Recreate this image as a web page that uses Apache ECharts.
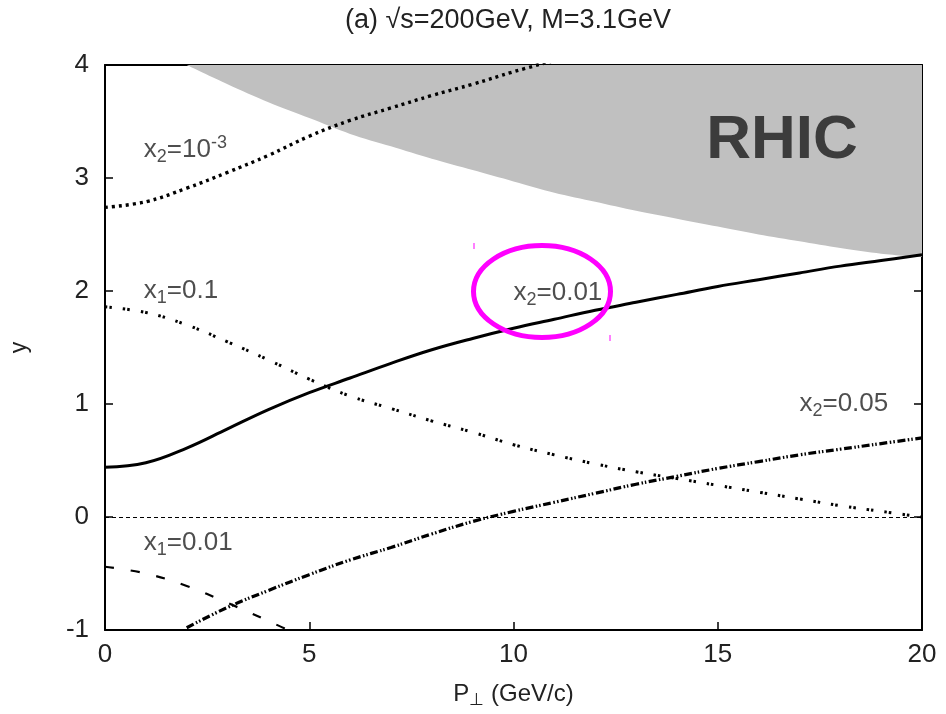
<!DOCTYPE html>
<html>
<head>
<meta charset="utf-8">
<script src="https://cdn.jsdelivr.net/npm/echarts@6/dist/echarts.min.js"></script>
<style>html,body{margin:0;padding:0;background:#fff}#chart{width:946px;height:714px}</style>
</head>
<body>
<div id="chart"></div>
<script>
// ---- data ----
const titleText = '(a) \u221As=200GeV, M=3.1GeV';
const xTicks = [0, 5, 10, 15, 20];
const yTicks = [-1, 0, 1, 2, 3, 4];

// RHIC kinematic boundary (shaded above)
const rhicX = [2, 3, 4, 5, 6, 7, 8, 9, 10, 11, 12, 13, 14, 15, 16, 17, 18, 19, 20];
const rhicY = [4.0, 3.83, 3.67, 3.53, 3.39, 3.28, 3.17, 3.07, 2.97, 2.87, 2.79, 2.71, 2.64, 2.57, 2.50, 2.44, 2.38, 2.33, 2.30];

// x2 = 0.01 (solid)
const x2_001_X = [0, 1, 2, 3, 4, 5, 6, 7, 8, 9, 10, 11, 12, 13, 14, 15, 16, 17, 18, 19, 20];
const x2_001_Y = [0.44, 0.48, 0.61, 0.78, 0.95, 1.10, 1.23, 1.36, 1.48, 1.58, 1.67, 1.75, 1.83, 1.90, 1.97, 2.04, 2.10, 2.16, 2.22, 2.27, 2.32];

// x2 = 1e-3 (dotted)
const x2_0001_X = [0, 1, 2, 3, 4, 5, 6, 7, 8, 9, 10, 11];
const x2_0001_Y = [2.74, 2.79, 2.91, 3.05, 3.20, 3.37, 3.51, 3.62, 3.73, 3.83, 3.94, 4.04];

// x1 = 0.1 (double dotted)
const x1_01_X = [0, 1, 2, 3, 4, 5, 6, 7, 8, 9, 10, 11, 12, 13, 14, 15, 16, 17, 18, 19, 20];
const x1_01_Y = [1.86, 1.81, 1.70, 1.55, 1.39, 1.22, 1.07, 0.96, 0.85, 0.75, 0.64, 0.55, 0.47, 0.40, 0.34, 0.28, 0.22, 0.16, 0.10, 0.05, 0.0];

// x2 = 0.05 (dash-dot-dot)
const x2_005_X = [2, 3, 4, 5, 6, 7, 8, 9, 10, 11, 12, 13, 14, 15, 16, 17, 18, 19, 20];
const x2_005_Y = [-0.98, -0.80, -0.65, -0.51, -0.38, -0.27, -0.15, -0.04, 0.05, 0.13, 0.21, 0.29, 0.36, 0.43, 0.49, 0.55, 0.60, 0.65, 0.70];

// x1 = 0.01 (dashed)
const x1_001_X = [0, 1, 2, 3, 4, 5];
const x1_001_Y = [-0.44, -0.50, -0.61, -0.76, -0.92, -1.09];

// curve labels
const labelNames = ['x2=1e-3', 'x1=0.1', 'x2=0.01', 'x2=0.05', 'x1=0.01'];
const labelX = [0.95, 0.95, 10.0, 17.0, 0.95];
const labelY = [3.25, 2.0, 1.98, 1.0, -0.23];
const labelMain = ['x', 'x', 'x', 'x', 'x'];
const labelSub = ['2', '1', '2', '2', '1'];
const labelRest = ['=10', '=0.1', '=0.01', '=0.05', '=0.01'];
const labelSup = ['-3', '', '', '', ''];

const zip = (xs, ys) => xs.map((x, i) => [x, ys[i]]);

const FONT = 'Liberation Sans, Arial, Helvetica, sans-serif';
const TXT = '#222';
const chart = echarts.init(document.getElementById('chart'), null, {renderer: 'canvas'});

const axisCommon = {
  axisLine: {show: true, onZero: false, lineStyle: {color: '#000', width: 2}},
  axisTick: {show: true, inside: true, length: 8, lineStyle: {color: '#000', width: 1.5}},
  splitLine: {show: false}
};

const labelData = labelNames.map((n, i) => ({
  value: [labelX[i], labelY[i]],
  label: {
    formatter: '{m|' + labelMain[i] + '}{s|' + labelSub[i] + '}{m|' + labelRest[i] + '}' + (labelSup[i] ? '{u|' + labelSup[i] + '}' : '')
  }
}));

const option = {
  animation: false,
  backgroundColor: '#fff',
  grid: {left: 96, right: 24, top: 65, bottom: 84, containLabel: false},
  xAxis: [
    Object.assign({}, axisCommon, {
      type: 'value', min: 0, max: 20, interval: 5, position: 'bottom',
      axisLabel: {color: TXT, fontSize: 26, fontFamily: FONT, margin: 12},
      name: '{p|P}{s|\u22A5}{p| (GeV/c)}', nameLocation: 'middle', nameGap: 50,
      nameTextStyle: {rich: {
        p: {fontSize: 24, fontFamily: FONT, color: TXT},
        s: {fontSize: 17, fontFamily: FONT, color: TXT, verticalAlign: 'bottom', padding: [12, 0, 0, 0]}
      }}
    }),
    Object.assign({}, axisCommon, {
      type: 'value', min: 0, max: 20, interval: 5, position: 'top',
      axisLabel: {show: false}
    })
  ],
  yAxis: [
    Object.assign({}, axisCommon, {
      type: 'value', min: -1, max: 4, interval: 1, position: 'left',
      axisLabel: {color: TXT, fontSize: 26, fontFamily: FONT, margin: 16},
      name: 'y', nameLocation: 'middle', nameGap: 74, nameRotate: 90,
      nameTextStyle: {fontSize: 23, fontFamily: FONT, color: TXT}
    }),
    Object.assign({}, axisCommon, {
      type: 'value', min: -1, max: 4, interval: 1, position: 'right',
      axisLabel: {show: false}
    })
  ],
  series: [
    {
      name: 'RHIC', type: 'line', data: zip(rhicX, rhicY), smooth: 0.3,
      symbol: 'none', lineStyle: {width: 0, opacity: 0},
      areaStyle: {origin: 'end', color: '#c0c0c0', opacity: 1}, z: 1
    },
    {
      name: 'x2=0.01', type: 'line', data: zip(x2_001_X, x2_001_Y), smooth: 0.4,
      symbol: 'none', lineStyle: {color: '#000', width: 3}, z: 5,
      markLine: {
        silent: true, symbol: 'none', label: {show: false},
        lineStyle: {color: '#000', width: 1, type: [4, 3]},
        data: [{yAxis: 0}]
      }
    },
    {
      name: 'x2=1e-3', type: 'line', data: zip(x2_0001_X, x2_0001_Y), smooth: 0.4,
      symbol: 'none', lineStyle: {color: '#000', width: 3.4, type: [3, 4], cap: 'butt'}, z: 5
    },
    {
      name: 'x1=0.1', type: 'line', data: zip(x1_01_X, x1_01_Y), smooth: 0.4,
      symbol: 'none', lineStyle: {color: '#000', width: 3, type: [2.5, 2, 2.5, 11], cap: 'butt'}, z: 5
    },
    {
      name: 'x2=0.05', type: 'line', data: zip(x2_005_X, x2_005_Y), smooth: 0.4,
      symbol: 'none', lineStyle: {color: '#000', width: 3.2, type: [8, 2.5, 1.5, 2, 1.5, 2.5], cap: 'butt'}, z: 5
    },
    {
      name: 'x1=0.01', type: 'line', data: zip(x1_001_X, x1_001_Y), smooth: 0.4,
      symbol: 'none', lineStyle: {color: '#000', width: 2.2, type: [9, 17], cap: 'butt'}, z: 5
    },
    {
      name: 'labels', type: 'scatter', symbolSize: 0, data: labelData, z: 10, silent: true,
      label: {
        show: true, position: 'right', distance: 0,
        rich: {
          m: {fontSize: 26, fontFamily: FONT, color: TXT},
          s: {fontSize: 18, fontFamily: FONT, color: TXT, verticalAlign: 'bottom', padding: [14, 0, 0, 0]},
          u: {fontSize: 18, fontFamily: FONT, color: TXT, verticalAlign: 'top', padding: [0, 0, 12, 0]}
        }
      }
    }
  ],
  graphic: [
    {type: 'text', x: 508, y: 21, style: {text: titleText, fontSize: 27, fontFamily: FONT, fill: TXT, align: 'center', verticalAlign: 'middle'}},
    {type: 'text', x: 782, y: 141, style: {text: 'RHIC', fontSize: 62, fontWeight: 'bold', fontFamily: FONT, fill: '#3c3c3c', align: 'center', verticalAlign: 'middle'}, z: 20},
    {type: 'ellipse', shape: {cx: 542, cy: 291.5, rx: 68.5, ry: 46}, style: {fill: 'none', stroke: '#ff00ff', lineWidth: 5}, z: 30},
    {type: 'line', shape: {x1: 474, y1: 243, x2: 474, y2: 249}, style: {stroke: '#ff00ff', lineWidth: 1}, z: 30},
    {type: 'line', shape: {x1: 610, y1: 335, x2: 610, y2: 341}, style: {stroke: '#ff00ff', lineWidth: 1}, z: 30}
  ]
};
chart.setOption(option);
</script>
</body>
</html>
